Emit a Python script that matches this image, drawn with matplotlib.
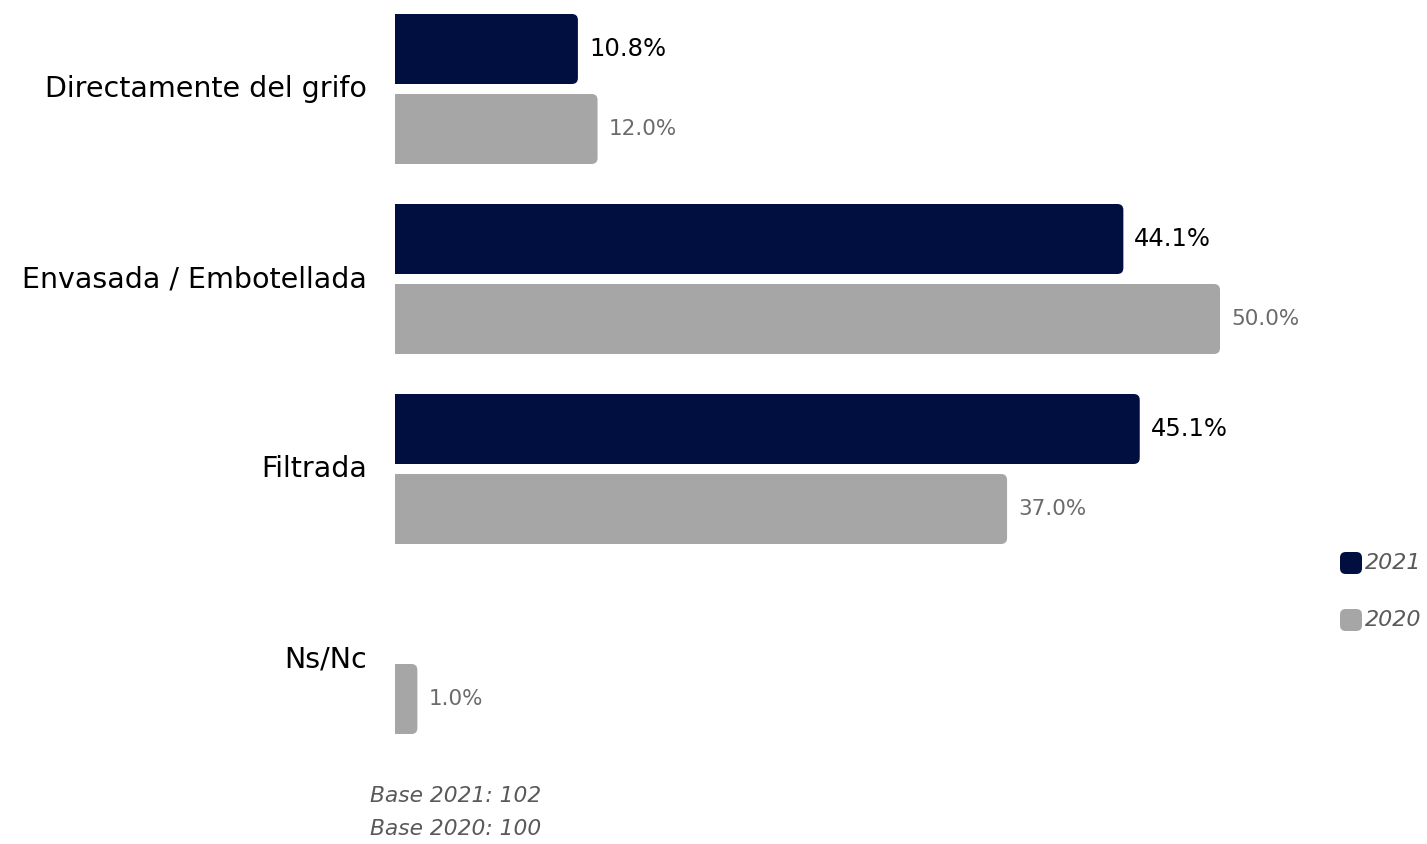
import numpy as np
import matplotlib
matplotlib.use('Agg')
import matplotlib.pyplot as plt
from matplotlib.patches import FancyBboxPatch

# Data
CATEGORIES = ['Directamente del grifo', 'Envasada / Embotellada', 'Filtrada', 'Ns/Nc']
VALUES_2021 = [10.8, 44.1, 45.1, None]
VALUES_2020 = [12.0, 50.0, 37.0, 1.0]
SERIES = ['2021', '2020']
BASE_NOTES = ['Base 2021: 102', 'Base 2020: 100']

NAVY = '#000F40'
GRAY = '#A6A6A6'
TEXT_GRAY = '#595959'
FONT = 'DejaVu Sans'

W, H = 1427, 844
fig = plt.figure(figsize=(W / 100, H / 100), dpi=100)
fig.patch.set_facecolor('white')

# axes box in pixels: left 395, right 1320, top 0, bottom 760
ax = fig.add_axes([395 / W, (H - 760) / H, (1320 - 395) / W, 760 / H])
px_x = 16.38           # pixels per percent
px_y = 190.0           # pixels per category
x0 = -6 / px_x         # zero sits a few pixels right of the bar base
ax.set_xlim(x0, x0 + (1320 - 395) / px_x)
ax.set_ylim((760 - 89) / px_y, -89 / px_y)
ax.axis('off')

bar_h = 70 / px_y
offset = 40 / px_y
radius = 6 / px_x


def rounded_bar(y, val, color):
    # start left of the axis so only the right corners stay rounded
    p = FancyBboxPatch((x0 - 1, y - bar_h / 2), val - x0 + 1, bar_h,
                       boxstyle='round,pad=0,rounding_size={}'.format(radius),
                       mutation_aspect=px_x / px_y,
                       facecolor=color, edgecolor='none')
    ax.add_patch(p)


y = np.arange(len(CATEGORIES))
for i, cat in enumerate(CATEGORIES):
    v21 = VALUES_2021[i]
    v20 = VALUES_2020[i]
    if v21 is not None:
        rounded_bar(y[i] - offset, v21, NAVY)
        ax.text(v21 + 11 / px_x, y[i] - offset, '{:.1f}%'.format(v21),
                ha='left', va='center', fontsize=17.5, color='black', family=FONT)
    if v20 is not None:
        rounded_bar(y[i] + offset, v20, GRAY)
        ax.text(v20 + 11 / px_x, y[i] + offset, '{:.1f}%'.format(v20),
                ha='left', va='center', fontsize=15.5, color='#6b6b6b',
                family=FONT)
    # category label
    ax.text(x0 - 28 / px_x, y[i], cat, ha='right', va='center', fontsize=20.5,
            color='black', family=FONT, clip_on=False)

# Legend
for k, (name, col) in enumerate(zip(SERIES, [NAVY, GRAY])):
    cy = 563 + k * 57
    sq = FancyBboxPatch((1340 / W, (H - cy - 11) / H), 22 / W, 22 / H,
                        boxstyle='round,pad=0,rounding_size=0.004',
                        mutation_aspect=W / H,
                        transform=fig.transFigure, facecolor=col, edgecolor='none')
    fig.patches.append(sq)
    fig.text(1365 / W, (H - cy) / H, name, ha='left', va='center',
             fontsize=16, style='italic', color=TEXT_GRAY, family=FONT)

# Base notes
for k, note in enumerate(BASE_NOTES):
    fig.text(370 / W, (H - 796 - k * 33) / H, note, ha='left', va='center',
             fontsize=15.7, style='italic', color=TEXT_GRAY, family=FONT)

plt.savefig('out.png', dpi=100, facecolor='white')
plt.close()
